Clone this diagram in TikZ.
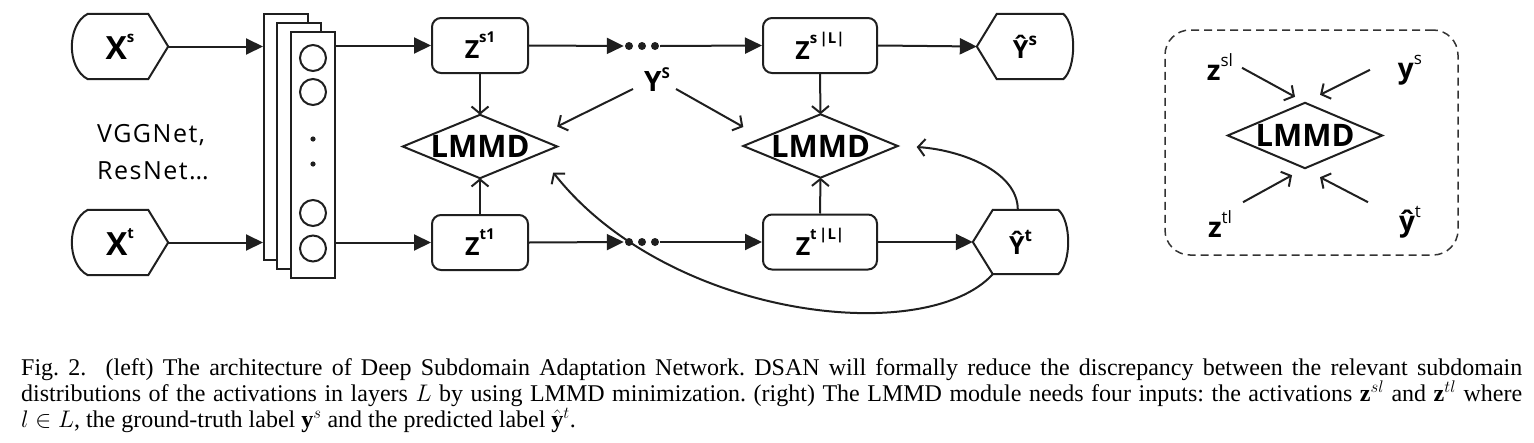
\RequirePackage{fix-cm}
\documentclass[tikz,border=0pt]{standalone}
\usepackage{fontspec}
\setmainfont{Liberation Serif}
\newfontfamily\dfont{Open Sans}
\usetikzlibrary{arrows.meta,calc}

\newcommand\spr[3]{\raisebox{#1pt}{\fontsize{#2}{#2}\selectfont #3}}
\newcommand\dispL[1]{%
  \draw[ln] ($(#1.north west)+(16,0)$) -- ($(#1.north east)+(-20,0)$) -- (#1.east)
    -- ($(#1.south east)+(-20,0)$) -- ($(#1.south west)+(16,0)$)
    .. controls ($(#1.south west)+(-5.3,-11)$) and ($(#1.north west)+(-5.3,11)$) .. ($(#1.north west)+(16,0)$) -- cycle;}
\newcommand\dispR[1]{%
  \draw[ln] (#1.west) -- ($(#1.north west)+(20,0)$) -- ($(#1.north east)+(-10,0)$)
    .. controls ($(#1.north east)+(3.3,11)$) and ($(#1.south east)+(3.3,-11)$) .. ($(#1.south east)+(-10,0)$)
    -- ($(#1.south west)+(20,0)$) -- cycle;}
\newcommand\diam[1]{%
  \draw[ln, line join=miter] (#1.west) -- (#1.north) -- (#1.east) -- (#1.south) -- cycle;}

\tikzset{
  ln/.style={line width=2pt, draw=black!88},
  farrow/.style={ln, -{Triangle[length=17pt,width=16pt]}},
  oarrow/.style={ln, -{Straight Barb[length=7pt,width=17pt]}},
  zbox/.style={ln, rounded corners=9pt, minimum height=55pt, inner sep=0pt,
    font=\dfont\bfseries\fontsize{25}{25}\selectfont},
  disp/.style={minimum width=96pt, minimum height=65pt, inner sep=0pt,
    font=\dfont\bfseries\fontsize{32}{32}\selectfont},
  dispy/.style={minimum width=96pt, minimum height=65pt, inner sep=0pt,
    font=\dfont\bfseries\fontsize{25}{25}\selectfont},
  lmmd/.style={minimum width=154pt, minimum height=63pt, inner sep=0pt,
    font=\dfont\bfseries\fontsize{31}{31}\selectfont},
  stackbox/.style={ln, fill=white, minimum width=44pt, minimum height=246pt, inner sep=0pt},
  neuron/.style={ln, circle, minimum size=26pt, inner sep=0pt},
  dotsnode/.style={minimum width=36pt, minimum height=10pt, inner sep=0pt},
  plain/.style={inner sep=0pt, font=\dfont\addfontfeature{LetterSpace=6}\fontsize{25}{37.5}\selectfont},
  rlab/.style={inner sep=0pt, font=\dfont\bfseries\fontsize{28}{28}\selectfont},
  captext/.style={inner sep=0pt, font=\fontsize{24}{26}\selectfont\frenchspacing},
  dbox/.style={line width=1.5pt, draw=black!80, dash pattern=on 8pt off 5pt, rounded corners=25pt,
    minimum width=293pt, minimum height=225pt},
}

\begin{document}
\begin{tikzpicture}[x=1pt,y=-1pt]
\useasboundingbox (0,0) rectangle (1534,442);

% inputs
\node[disp] (xs) at (120,46.5) {X\spr{17}{15}{s}};
\node[disp] (xt) at (120,242.5) {X\spr{17}{15}{t}};
\dispL{xs}
\dispL{xt}

% backbone stack
\node[stackbox] (st1) at (286,137) {};
\node[stackbox] (st2) at (299,145.5) {};
\node[stackbox] (st3) at (313,154.5) {};
\node[neuron] (n1) at (313,58) {};
\node[neuron] (n2) at (313,92) {};
\node[neuron] (n3) at (313,213) {};
\node[neuron] (n4) at (313,248.5) {};
\fill[black!88] (313,139) circle (2.6) (313,164) circle (2.6);

\node[plain, align=left] (bb) at (153,152) {VGGNet,\\ResNet\ldots};

% feature boxes
\node[zbox, minimum width=96pt] (zs1) at (480,45.5) {Z\spr{16}{15}{s1}};
\node[zbox, minimum width=96pt] (zt1) at (480,242.5) {Z\spr{16}{15}{t1}};
\node[zbox, minimum width=114pt] (zsL) at (820,45.5) {Z\spr{16}{15}{s\,|L|}};
\node[zbox, minimum width=114pt] (ztL) at (820,242) {Z\spr{16}{15}{t\,|L|}};

\node[dotsnode] (dA) at (642,46) {};
\node[dotsnode] (dB) at (642,242) {};
\foreach \d in {dA,dB}{
  \fill[black!88] ($(\d)+(-13,0)$) circle (4) (\d) circle (4) ($(\d)+(13,0)$) circle (4);
}

% LMMD
\node[lmmd] (lm1) at (480,146.5) {LMMD};
\node[lmmd] (lm2) at (820.5,146) {LMMD};
\diam{lm1}
\diam{lm2}

% outputs
\node[dispy] (ysh) at (1025,46.5) {Ŷ\spr{13}{17}{s}};
\node[dispy, minimum width=95pt, minimum height=64pt] (yth) at (1020.5,242) {Ŷ\spr{13}{17}{t}};
\dispR{ysh}
\dispR{yth}

\node[rlab] (Ys) at (657,80) {Y\spr{13}{15}{S}};

% connectors
\draw[farrow] (xs.east) -- (xs.east -| st1.west);
\draw[farrow] (xt.east) -- (xt.east -| st1.west);
\draw[farrow] (zs1.west -| st3.east) -- (zs1.west);
\draw[farrow] (zt1.west -| st3.east) -- (zt1.west);
\draw[farrow] (zs1.east) -- (dA.west);
\draw[farrow] (zt1.east) -- (dB.west);
\draw[farrow] (dA.east) -- (zsL.west);
\draw[farrow] (dB.east) -- (ztL.west);
\draw[farrow] (zsL.east) -- (ysh.west);
\draw[farrow] (ztL.east) -- (yth.west);

\draw[oarrow] (zs1.south) -- (lm1.north);
\draw[oarrow] (zt1.north) -- (lm1.south);
\draw[oarrow] (zsL.south) -- (lm2.north);
\draw[oarrow] (ztL.north) -- (lm2.south);
\draw[oarrow] ($(Ys)+(-24,9)$) -- ($(lm1.east)+(0,-20)$);
\draw[oarrow] ($(Ys)+(19,9)$) -- ($(lm2.west)+(0,-19)$);
\draw[oarrow] ($(yth.north west)+(45,0)$) .. controls (1018,172) and (962,150) .. ($(lm2.east)+(19,1)$);
\draw[oarrow] ($(yth.south west)+(20,0)$) .. controls (925,348) and (668,318) .. ($(lm1.east)+(-4,26)$);

% LMMD module (right)
\node[dbox] (mod) at (1311.5,142.5) {};
\node[lmmd, minimum height=65pt] (lm3) at (1305,135.5) {LMMD};
\diam{lm3}
\node[rlab] (zsl) at (1220,67) {z\spr{14}{17}{\mdseries sl}};
\node[rlab] (ys) at (1410,70) {y\spr{14}{17}{\mdseries s}};
\node[rlab] (ztl) at (1220,224) {z\spr{14}{17}{\mdseries tl}};
\node[rlab] (yt) at (1410,222) {ŷ\spr{14}{17}{\mdseries t}};
\draw[oarrow] ($(lm3.north)+(-63,-35)$) -- ($(lm3.north)+(-10,-6)$);
\draw[oarrow] ($(lm3.north)+(65,-33)$) -- ($(lm3.north)+(15,-8)$);
\draw[oarrow] ($(lm3.south)+(-62,34)$) -- ($(lm3.south)+(-13,7)$);
\draw[oarrow] ($(lm3.south)+(63,34)$) -- ($(lm3.south)+(15,9)$);

% caption
\node[captext, anchor=base west] (c1) at (21,375) {\makebox[1501pt][s]{Fig.~2.\hspace{0.8em}(left) The architecture of Deep Subdomain Adaptation Network. DSAN will formally reduce the discrepancy between the relevant subdomain}};
\node[captext, anchor=base west] (c2) at (21,401) {\makebox[1501pt][s]{distributions of the activations in layers $L$ by using LMMD minimization. (right) The LMMD module needs four inputs: the activations $\mathbf{z}^{sl}$ and $\mathbf{z}^{tl}$ where}};
\node[captext, anchor=base west] (c3) at (21,427) {$l \in L$, the ground-truth label $\mathbf{y}^s$ and the predicted label $\hat{\mathbf{y}}^t$.};
\end{tikzpicture}
\end{document}
